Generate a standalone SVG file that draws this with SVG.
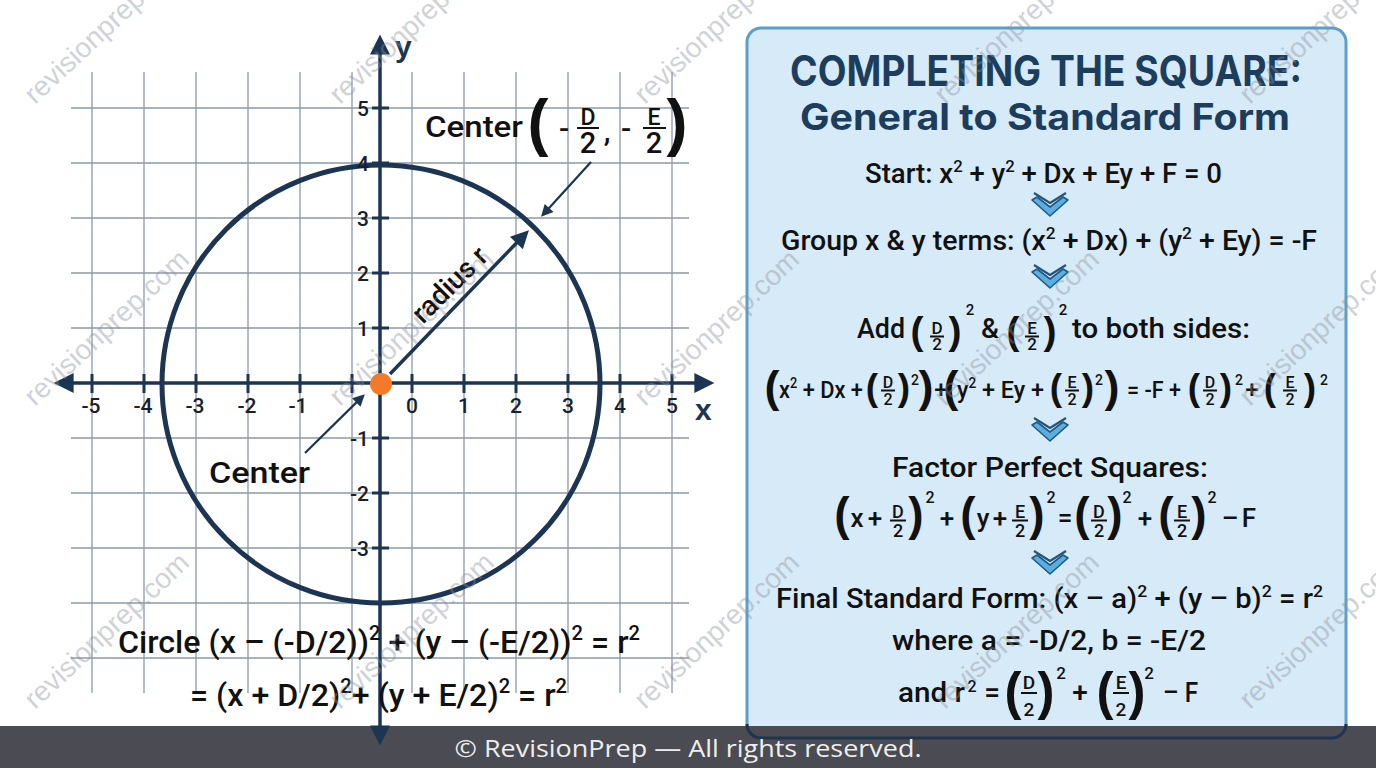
<svg xmlns="http://www.w3.org/2000/svg" width="1376" height="768" viewBox="0 0 1376 768">
<defs>
<style>
.grid{stroke:#8d9aa7;stroke-width:1.3;fill:none}
.ax{stroke:#1c3553;stroke-width:3.5;fill:none}
.tick{stroke:#1c3553;stroke-width:3;fill:none}
.circ{stroke:#1c3553;stroke-width:5;fill:none}
.ptr{stroke:#1c3553;stroke-width:2.2;fill:none}
.lbl{font-family:Roboto,"Liberation Sans",sans-serif;font-weight:500;font-size:21px;fill:#17212d}
.ylbl{text-anchor:end}
.xlbl{text-anchor:middle}
.axn{font-family:"Liberation Sans",Roboto,sans-serif;font-weight:700;font-size:30px;fill:#1c3553}
.b{font-family:Roboto,"Liberation Sans",sans-serif;font-weight:500;fill:#111}
.par{font-family:"Liberation Sans",Roboto,sans-serif;font-weight:700;fill:#111;text-anchor:middle}
.c{text-anchor:middle}
.fr{stroke:#111;stroke-width:2}
.title{font-family:Inter,"Liberation Sans",sans-serif;font-weight:700;fill:#1d3d5d;text-anchor:middle}
.wm{font-family:"Liberation Sans",sans-serif;font-size:28px;fill:#8a919c;opacity:0.4}
.ft{font-family:"Open Sans","Noto Sans",sans-serif;font-size:24px;fill:#eeeeee;text-anchor:middle}
</style>
<marker id="ah" viewBox="0 0 10 10" refX="2" refY="5" markerUnits="userSpaceOnUse" markerWidth="22" markerHeight="20" orient="auto-start-reverse"><path d="M0,0 L10,5 L0,10 Z" fill="#1c3553"/></marker>
<marker id="ahm" viewBox="0 0 10 10" refX="2" refY="5" markerUnits="userSpaceOnUse" markerWidth="20" markerHeight="18" orient="auto"><path d="M0,0 L10,5 L0,10 Z" fill="#1c3553"/></marker>
<marker id="ahs" viewBox="0 0 10 10" refX="2" refY="5" markerUnits="userSpaceOnUse" markerWidth="14" markerHeight="12" orient="auto"><path d="M0,0 L10,5 L0,10 Z" fill="#1c3553"/></marker>
<g id="chev"><path d="M-16,-12 L0,-2 L16,-12" fill="none" stroke="#23567d" stroke-width="2.2" stroke-linejoin="round"/><path d="M-18,-5 L0,11 L18,-5 L13,-8 L0,2 L-13,-8 Z" fill="#5cade0" stroke="#1f5a83" stroke-width="1.6" stroke-linejoin="round"/></g>
</defs>
<rect x="0" y="0" width="1376" height="768" fill="#ffffff"/>

<g id="panel">
<rect x="747" y="28" width="599" height="710" rx="14" fill="#d7eaf7" stroke="#5a9fcd" stroke-width="3"/>
</g>

<g id="footer-band">
<rect x="0" y="726" width="1376" height="42" fill="#4b4c53"/>
<path d="M747,726 L747,724 A14,14 0 0 0 761,738 L1332,738 A14,14 0 0 0 1346,724 L1346,726" fill="none" stroke="#1d3550" stroke-width="3"/>
</g>

<g id="graph">
<path class="grid" d="M71,108 H689 M71,163 H689 M71,218 H689 M71,273 H689 M71,328 H689 M71,438 H689 M71,493 H689 M71,548 H689 M71,603 H689 M71,658 H689 M92,72 V693 M144,72 V693 M196,72 V693 M248,72 V693 M300,72 V693 M352,72 V693 M412,72 V693 M464,72 V693 M516,72 V693 M568,72 V693 M620,72 V693 M672,72 V693"/>
<circle class="circ" cx="381" cy="384" r="219"/>
<g id="axes">
<line class="ax" x1="69.6" y1="383" x2="698.4" y2="383" marker-start="url(#ah)" marker-end="url(#ah)"/>
<line class="ax" x1="380" y1="50.6" x2="380" y2="729.4" marker-start="url(#ah)" marker-end="url(#ah)"/>
<path class="tick" d="M92,374 V393 M144,374 V393 M196,374 V393 M248,374 V393 M300,374 V393 M352,374 V393 M412,374 V393 M464,374 V393 M516,374 V393 M568,374 V393 M620,374 V393 M672,374 V393 M372,108 H389 M372,163 H389 M372,218 H389 M372,273 H389 M372,328 H389 M372,438 H389 M372,493 H389 M372,548 H389"/>
</g>
<g id="ticklabels">
<text class="lbl ylbl" x="369" y="116">5</text>
<text class="lbl ylbl" x="369" y="171">4</text>
<text class="lbl ylbl" x="369" y="226">3</text>
<text class="lbl ylbl" x="369" y="281">2</text>
<text class="lbl ylbl" x="369" y="336">1</text>
<text class="lbl ylbl" x="369" y="446">-1</text>
<text class="lbl ylbl" x="369" y="501">-2</text>
<text class="lbl ylbl" x="369" y="556">-3</text>
<text class="lbl xlbl" x="91" y="413">-5</text>
<text class="lbl xlbl" x="143" y="413">-4</text>
<text class="lbl xlbl" x="195" y="413">-3</text>
<text class="lbl xlbl" x="247" y="413">-2</text>
<text class="lbl xlbl" x="298" y="413">-1</text>
<text class="lbl xlbl" x="412" y="413">0</text>
<text class="lbl xlbl" x="464" y="413">1</text>
<text class="lbl xlbl" x="516" y="413">2</text>
<text class="lbl xlbl" x="568" y="413">3</text>
<text class="lbl xlbl" x="620" y="413">4</text>
<text class="lbl xlbl" x="672" y="413">5</text>
<text class="axn" x="395" y="57">y</text>
<text class="axn" x="695" y="420">x</text>
</g>
</g>

<g id="connectors">
<line class="ax" x1="390" y1="374" x2="518.9" y2="240.5" marker-end="url(#ahm)"/>
<line class="ptr" x1="591" y1="162" x2="547.5" y2="209.7" marker-end="url(#ahs)"/>
<line class="ptr" x1="305" y1="453" x2="358" y2="400.9" marker-end="url(#ahs)"/>
</g>

<g id="center-dot"><circle cx="381" cy="384" r="11" fill="#f27a28"/></g>

<g id="radius-label">
<text class="b c" font-size="28" transform="translate(450,285) rotate(-45)" y="9">radius r</text>
</g>

<g id="center-label-bottom">
<text class="b" font-size="30" x="209" y="483" textLength="101" lengthAdjust="spacingAndGlyphs">Center</text>
</g>

<g id="center-label-top">
<text class="b" font-size="30" x="425" y="137" textLength="98" lengthAdjust="spacingAndGlyphs">Center</text>
<text class="par" font-size="63" x="538" y="144" font-weight="400">(</text>
<text class="b c" font-size="30" x="564" y="139">-</text>
<text class="b c" font-size="23" x="588" y="125">D</text>
<line class="fr" x1="577" y1="128" x2="599" y2="128" stroke-width="2.5"/>
<text class="b c" font-size="29" x="588" y="153">2</text>
<text class="b c" font-size="30" x="607" y="141">,</text>
<text class="b c" font-size="30" x="626" y="139">-</text>
<text class="b c" font-size="23" x="654" y="125">E</text>
<line class="fr" x1="643" y1="128" x2="666" y2="128" stroke-width="2.5"/>
<text class="b c" font-size="29" x="654" y="153">2</text>
<text class="par" font-size="63" x="677" y="144" font-weight="400">)</text>
</g>

<g id="circle-equation">
<text class="b" font-size="32" x="118" y="653" textLength="522" lengthAdjust="spacingAndGlyphs">Circle (x – (-D/2))<tspan font-size="20" dy="-13">2</tspan><tspan dy="13"> + (y – (-E/2))</tspan><tspan font-size="20" dy="-13">2</tspan><tspan dy="13"> = r</tspan><tspan font-size="20" dy="-13">2</tspan></text>
<text class="b" font-size="32" x="190" y="706" textLength="377" lengthAdjust="spacingAndGlyphs">= (x + D/2)<tspan font-size="20" dy="-13">2</tspan><tspan dy="13">+ (y + E/2)</tspan><tspan font-size="20" dy="-13">2</tspan><tspan dy="13"> = r</tspan><tspan font-size="20" dy="-13">2</tspan></text>
</g>

<g id="title">
<text class="title" font-size="42" x="1046" y="86" textLength="512" lengthAdjust="spacingAndGlyphs">COMPLETING THE SQUARE:</text>
<text class="title" font-size="37" x="1045" y="130" textLength="490" lengthAdjust="spacingAndGlyphs">General to Standard Form</text>
</g>

<g id="step-start">
<text class="b" font-size="28" x="865" y="183" textLength="357" lengthAdjust="spacingAndGlyphs">Start: x<tspan font-size="17" dy="-11">2</tspan><tspan dy="11"> + y</tspan><tspan font-size="17" dy="-11">2</tspan><tspan dy="11"> + Dx + Ey + F = 0</tspan></text>
</g>
<use href="#chev" x="1050" y="205"/>

<g id="step-group">
<text class="b" font-size="28" x="781" y="250" textLength="536" lengthAdjust="spacingAndGlyphs">Group x &amp; y terms: (x<tspan font-size="17" dy="-11">2</tspan><tspan dy="11"> + Dx) + (y</tspan><tspan font-size="17" dy="-11">2</tspan><tspan dy="11"> + Ey) = -F</tspan></text>
</g>
<use href="#chev" x="1050" y="277"/>

<g id="step-add">
<text class="b" font-size="28" x="857" y="338" textLength="48" lengthAdjust="spacingAndGlyphs">Add</text>
<text class="par" font-size="39" x="917" y="344">(</text>
<text class="b c" font-size="17" x="937" y="334">D</text>
<line class="fr" x1="930" y1="336.5" x2="944" y2="336.5"/>
<text class="b c" font-size="17" x="937" y="350">2</text>
<text class="par" font-size="39" x="955" y="344">)</text>
<text class="b c" font-size="15" x="970" y="315">2</text>
<text class="b c" font-size="28" x="990" y="338">&amp;</text>
<text class="par" font-size="39" x="1013" y="344">(</text>
<text class="b c" font-size="17" x="1032" y="334">E</text>
<line class="fr" x1="1025" y1="336.5" x2="1039" y2="336.5"/>
<text class="b c" font-size="17" x="1032" y="350">2</text>
<text class="par" font-size="39" x="1050" y="344">)</text>
<text class="b c" font-size="15" x="1063" y="315">2</text>
<text class="b" font-size="28" x="1072" y="338" textLength="178" lengthAdjust="spacingAndGlyphs">to both sides:</text>
</g>

<g id="step-expanded">
<text class="par" font-size="45" x="772" y="402">(</text>
<text class="b" font-size="24" x="779" y="398" textLength="84" lengthAdjust="spacingAndGlyphs">x<tspan font-size="14" dy="-10">2</tspan><tspan dy="10"> + Dx +</tspan></text>
<text class="par" font-size="37" x="872" y="400">(</text>
<text class="b c" font-size="16" x="888" y="388">D</text>
<line class="fr" x1="881" y1="390.5" x2="895" y2="390.5"/>
<text class="b c" font-size="16" x="888" y="405">2</text>
<text class="par" font-size="37" x="904" y="400">)</text>
<text class="b c" font-size="14" x="915" y="385">2</text>
<text class="par" font-size="45" x="926" y="402">)</text>
<text class="b c" font-size="24" x="941" y="398">+</text>
<text class="par" font-size="45" x="951" y="402">(</text>
<text class="b" font-size="24" x="957" y="398" textLength="87" lengthAdjust="spacingAndGlyphs">y<tspan font-size="14" dy="-10">2</tspan><tspan dy="10"> + Ey +</tspan></text>
<text class="par" font-size="37" x="1056" y="400">(</text>
<text class="b c" font-size="16" x="1072" y="388">E</text>
<line class="fr" x1="1065" y1="390.5" x2="1079" y2="390.5"/>
<text class="b c" font-size="16" x="1072" y="405">2</text>
<text class="par" font-size="37" x="1088" y="400">)</text>
<text class="b c" font-size="14" x="1099" y="385">2</text>
<text class="par" font-size="45" x="1112" y="402">)</text>
<text class="b" font-size="24" x="1127" y="398" textLength="54" lengthAdjust="spacingAndGlyphs">= -F +</text>
<text class="par" font-size="37" x="1194" y="400">(</text>
<text class="b c" font-size="16" x="1210" y="388">D</text>
<line class="fr" x1="1203" y1="390.5" x2="1217" y2="390.5"/>
<text class="b c" font-size="16" x="1210" y="405">2</text>
<text class="par" font-size="37" x="1226" y="400">)</text>
<text class="b c" font-size="14" x="1239" y="385">2</text>
<text class="b c" font-size="24" x="1252" y="398">+</text>
<text class="par" font-size="37" x="1270" y="400">(</text>
<text class="b c" font-size="16" x="1290" y="388">E</text>
<line class="fr" x1="1283" y1="390.5" x2="1297" y2="390.5"/>
<text class="b c" font-size="16" x="1290" y="405">2</text>
<text class="par" font-size="37" x="1310" y="400">)</text>
<text class="b c" font-size="14" x="1324" y="385">2</text>
</g>
<use href="#chev" x="1050" y="430"/>

<g id="step-factor">
<text class="b" font-size="28" x="892" y="477" textLength="316" lengthAdjust="spacingAndGlyphs">Factor Perfect Squares:</text>
<text class="par" font-size="46" x="842" y="530">(</text>
<text class="b c" font-size="26" x="857" y="527">x</text>
<text class="b c" font-size="26" x="875" y="527">+</text>
<text class="b c" font-size="18" x="898" y="518">D</text>
<line class="fr" x1="890" y1="520.5" x2="906" y2="520.5"/>
<text class="b c" font-size="18" x="898" y="537">2</text>
<text class="par" font-size="46" x="916" y="530">)</text>
<text class="b c" font-size="16" x="930" y="503">2</text>
<text class="b c" font-size="26" x="947" y="527">+</text>
<text class="par" font-size="46" x="968" y="530">(</text>
<text class="b c" font-size="26" x="983" y="527">y</text>
<text class="b c" font-size="26" x="1000" y="527">+</text>
<text class="b c" font-size="18" x="1020" y="518">E</text>
<line class="fr" x1="1012" y1="520.5" x2="1028" y2="520.5"/>
<text class="b c" font-size="18" x="1020" y="537">2</text>
<text class="par" font-size="46" x="1037" y="530">)</text>
<text class="b c" font-size="16" x="1051" y="503">2</text>
<text class="b c" font-size="26" x="1065" y="527">=</text>
<text class="par" font-size="46" x="1082" y="530">(</text>
<text class="b c" font-size="18" x="1099" y="518">D</text>
<line class="fr" x1="1091" y1="520.5" x2="1107" y2="520.5"/>
<text class="b c" font-size="18" x="1099" y="537">2</text>
<text class="par" font-size="46" x="1115" y="530">)</text>
<text class="b c" font-size="16" x="1127" y="503">2</text>
<text class="b c" font-size="26" x="1145" y="527">+</text>
<text class="par" font-size="46" x="1166" y="530">(</text>
<text class="b c" font-size="18" x="1182" y="518">E</text>
<line class="fr" x1="1174" y1="520.5" x2="1190" y2="520.5"/>
<text class="b c" font-size="18" x="1182" y="537">2</text>
<text class="par" font-size="46" x="1199" y="530">)</text>
<text class="b c" font-size="16" x="1212" y="503">2</text>
<text class="b c" font-size="26" x="1230" y="527">–</text>
<text class="b c" font-size="26" x="1249" y="527">F</text>
</g>
<use href="#chev" x="1050" y="563"/>

<g id="step-final">
<text class="b" font-size="28" x="776" y="608" textLength="547" lengthAdjust="spacingAndGlyphs">Final Standard Form: (x – a)<tspan font-size="17" dy="-11">2</tspan><tspan dy="11"> + (y – b)</tspan><tspan font-size="17" dy="-11">2</tspan><tspan dy="11"> = r</tspan><tspan font-size="17" dy="-11">2</tspan></text>
<text class="b" font-size="28" x="892" y="650" textLength="314" lengthAdjust="spacingAndGlyphs">where a = -D/2, b = -E/2</text>
<text class="b" font-size="28" x="898" y="702" textLength="67" lengthAdjust="spacingAndGlyphs">and r</text>
<text class="b c" font-size="16" x="972" y="692">2</text>
<text class="b c" font-size="28" x="992" y="702">=</text>
<text class="par" font-size="51" x="1013" y="709">(</text>
<text class="b c" font-size="19" x="1029" y="689">D</text>
<line class="fr" x1="1021" y1="693" x2="1037" y2="693"/>
<text class="b c" font-size="19" x="1029" y="716">2</text>
<text class="par" font-size="51" x="1046" y="709">)</text>
<text class="b c" font-size="17" x="1061" y="679">2</text>
<text class="b c" font-size="28" x="1080" y="702">+</text>
<text class="par" font-size="51" x="1105" y="709">(</text>
<text class="b c" font-size="19" x="1121" y="689">E</text>
<line class="fr" x1="1113" y1="693" x2="1129" y2="693"/>
<text class="b c" font-size="19" x="1121" y="716">2</text>
<text class="par" font-size="51" x="1137" y="709">)</text>
<text class="b c" font-size="17" x="1149" y="679">2</text>
<text class="b" font-size="28" x="1163" y="702" textLength="35" lengthAdjust="spacingAndGlyphs">– F</text>
</g>

<g id="watermarks">
<text class="wm" x="35" y="105" transform="rotate(-43 35 105)">revisionprep.com</text>
<text class="wm" x="340" y="105" transform="rotate(-43 340 105)">revisionprep.com</text>
<text class="wm" x="645" y="105" transform="rotate(-43 645 105)">revisionprep.com</text>
<text class="wm" x="945" y="105" transform="rotate(-43 945 105)">revisionprep.com</text>
<text class="wm" x="1250" y="105" transform="rotate(-43 1250 105)">revisionprep.com</text>
<text class="wm" x="35" y="407" transform="rotate(-43 35 407)">revisionprep.com</text>
<text class="wm" x="340" y="407" transform="rotate(-43 340 407)">revisionprep.com</text>
<text class="wm" x="645" y="407" transform="rotate(-43 645 407)">revisionprep.com</text>
<text class="wm" x="945" y="407" transform="rotate(-43 945 407)">revisionprep.com</text>
<text class="wm" x="1250" y="407" transform="rotate(-43 1250 407)">revisionprep.com</text>
<text class="wm" x="35" y="710" transform="rotate(-43 35 710)">revisionprep.com</text>
<text class="wm" x="340" y="710" transform="rotate(-43 340 710)">revisionprep.com</text>
<text class="wm" x="645" y="710" transform="rotate(-43 645 710)">revisionprep.com</text>
<text class="wm" x="945" y="710" transform="rotate(-43 945 710)">revisionprep.com</text>
<text class="wm" x="1250" y="710" transform="rotate(-43 1250 710)">revisionprep.com</text>
</g>

<g id="footer-text">
<text class="ft" x="688" y="757" textLength="467" lengthAdjust="spacingAndGlyphs">© RevisionPrep — All rights reserved.</text>
</g>
</svg>
